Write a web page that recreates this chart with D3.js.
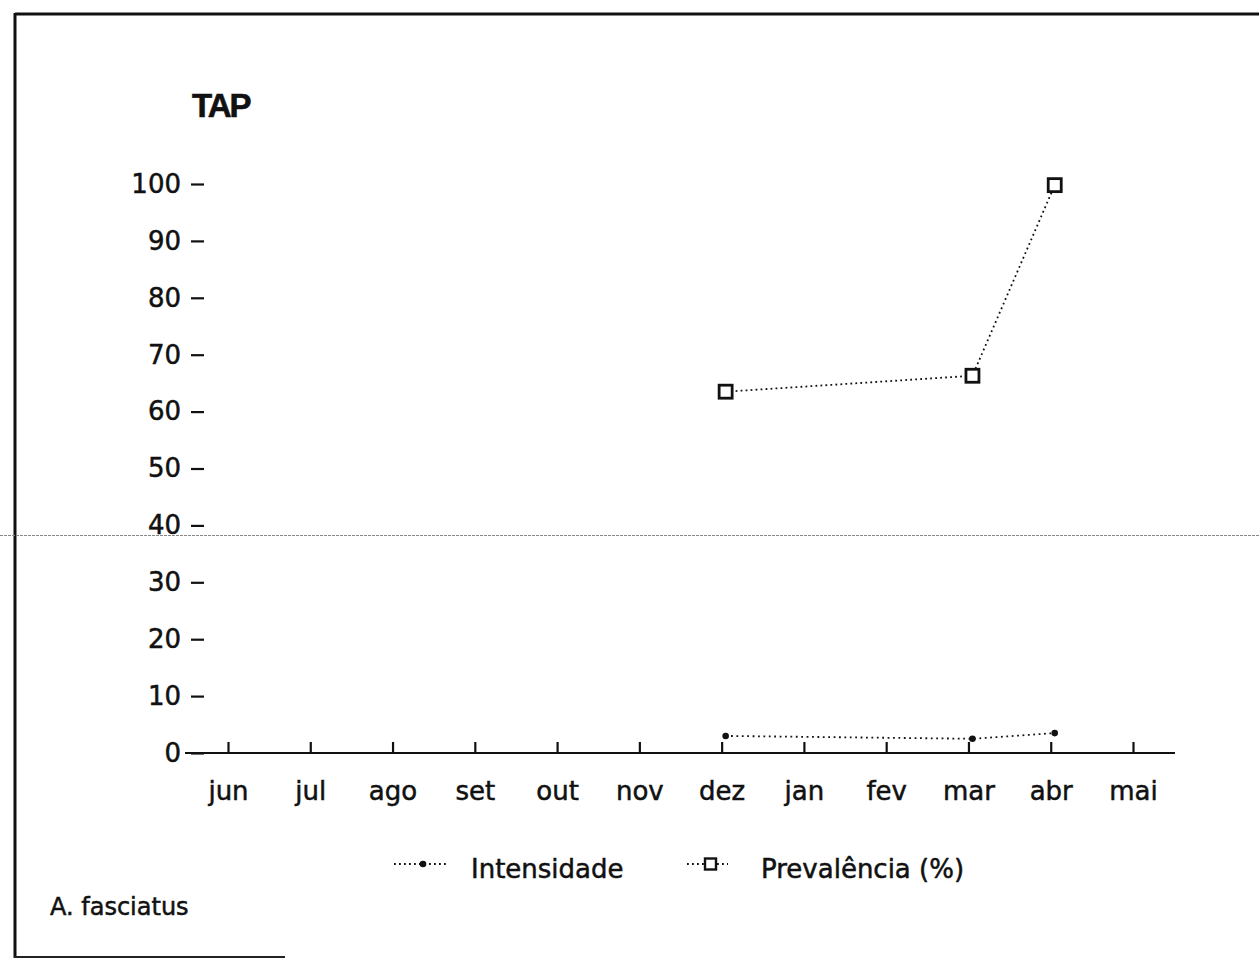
<!DOCTYPE html>
<html>
<head>
<meta charset="utf-8">
<script src="https://cdn.jsdelivr.net/npm/d3@7"></script>
<style>
  html, body { margin: 0; padding: 0; background: #fff; }
  svg { display: block; }
</style>
</head>
<body>
<svg id="chart" width="1259" height="960"></svg>
<script>
// ---- data ----
const months = ["jun", "jul", "ago", "set", "out", "nov", "dez", "jan", "fev", "mar", "abr", "mai"];
const yTickValues = [0, 10, 20, 30, 40, 50, 60, 70, 80, 90, 100];
const intensMonths = ["dez", "mar", "abr"];
const intensValues = [3.0, 2.5, 3.5];
const prevMonths = ["dez", "mar", "abr"];
const prevValues = [63.5, 66.3, 99.8];
const titleText = "TAP";
const legendLabels = ["Intensidade", "Prevalência (%)"];
const speciesLabel = "A. fasciatus";

const svg = d3.select("#chart");
const FONT = "'DejaVu Sans', sans-serif";
const INK = "#111";

function heavy(sel) {
  return sel.attr("font-family", FONT).attr("fill", INK)
    .attr("stroke", INK).attr("stroke-width", 0.5);
}

// frame (scanned box)
svg.append("line").attr("x1", 15).attr("x2", 1259).attr("y1", 14).attr("y2", 14)
  .attr("stroke", INK).attr("stroke-width", 3);
svg.append("line").attr("x1", 15).attr("x2", 15).attr("y1", 13).attr("y2", 958)
  .attr("stroke", INK).attr("stroke-width", 3);
svg.append("line").attr("x1", 14).attr("x2", 285).attr("y1", 957).attr("y2", 957)
  .attr("stroke", "#222").attr("stroke-width", 2);
// faint scan line
svg.append("line").attr("x1", 0).attr("x2", 1259).attr("y1", 535.5).attr("y2", 535.5)
  .attr("stroke", "#888").attr("stroke-width", 1).attr("stroke-dasharray", "3,1");

// scales
const x = d3.scalePoint().domain(months).range([228, 1133]);
const y = d3.scaleLinear().domain([0, 100]).range([753, 184]);

// title
svg.append("text").attr("x", 192).attr("y", 117)
  .attr("font-family", "'Liberation Sans', Arial, sans-serif")
  .attr("font-weight", "bold").attr("font-size", 33).attr("letter-spacing", -2)
  .attr("fill", INK).attr("stroke", INK).attr("stroke-width", 0.6)
  .text(titleText);

// y axis
const yAxis = svg.append("g").attr("transform", "translate(204,0)")
  .call(d3.axisLeft(y).tickValues(yTickValues).tickSize(13).tickPadding(10));
yAxis.select(".domain").remove();
yAxis.selectAll(".tick line").attr("stroke", INK).attr("stroke-width", 2.2);
heavy(yAxis.selectAll(".tick text")).attr("font-size", 26);

// x axis
svg.append("line").attr("x1", x(months[0]) - 43).attr("x2", x(months[months.length - 1]) + 42)
  .attr("y1", y(0)).attr("y2", y(0)).attr("stroke", INK).attr("stroke-width", 2.2);
const xAxis = svg.append("g").attr("transform", `translate(0,${y(0)})`)
  .call(d3.axisBottom(x).tickSizeInner(-11).tickSizeOuter(0).tickPadding(29));
xAxis.select(".domain").remove();
xAxis.selectAll(".tick line").attr("stroke", INK).attr("stroke-width", 2.2);
heavy(xAxis.selectAll(".tick text")).attr("font-size", 26);

// series
const intens = intensMonths.map((m, i) => ({ m, v: intensValues[i] }));
const prev = prevMonths.map((m, i) => ({ m, v: prevValues[i] }));
const line = d3.line().x(d => x(d.m) + 4).y(d => y(d.v));

svg.append("path").datum(intens).attr("d", line).attr("fill", "none")
  .attr("stroke", INK).attr("stroke-width", 1.8).attr("stroke-dasharray", "1.8,3.6");
svg.selectAll(".idot").data(intens).enter().append("circle")
  .attr("cx", d => x(d.m) + 4).attr("cy", d => y(d.v)).attr("r", 3.3).attr("fill", INK);

svg.append("path").datum(prev).attr("d", line).attr("fill", "none")
  .attr("stroke", INK).attr("stroke-width", 1.8).attr("stroke-dasharray", "1.8,3.2");
svg.selectAll(".psq").data(prev).enter().append("rect")
  .attr("x", d => x(d.m) + 4 - 6.5).attr("y", d => y(d.v) - 6.5)
  .attr("width", 13).attr("height", 13)
  .attr("fill", "#fff").attr("stroke", INK).attr("stroke-width", 2.8);

// legend
const ly = 864;
const lg = svg.append("g");
lg.append("line").attr("x1", 394).attr("x2", 448).attr("y1", ly).attr("y2", ly)
  .attr("stroke", INK).attr("stroke-width", 1.8).attr("stroke-dasharray", "1.8,3.2");
lg.append("circle").attr("cx", 423).attr("cy", ly).attr("r", 3.3).attr("fill", INK);
heavy(lg.append("text")).attr("x", 471).attr("y", 878).attr("font-size", 26).text(legendLabels[0]);
lg.append("line").attr("x1", 687).attr("x2", 728).attr("y1", ly).attr("y2", ly)
  .attr("stroke", INK).attr("stroke-width", 1.8).attr("stroke-dasharray", "1.8,3.2");
lg.append("rect").attr("x", 705).attr("y", ly - 5.5).attr("width", 11).attr("height", 11)
  .attr("fill", "#fff").attr("stroke", INK).attr("stroke-width", 2.4);
heavy(lg.append("text")).attr("x", 761).attr("y", 878).attr("font-size", 26).text(legendLabels[1]);

// species label
heavy(svg.append("text")).attr("x", 50).attr("y", 915).attr("font-size", 24).text(speciesLabel);
</script>
</body>
</html>
